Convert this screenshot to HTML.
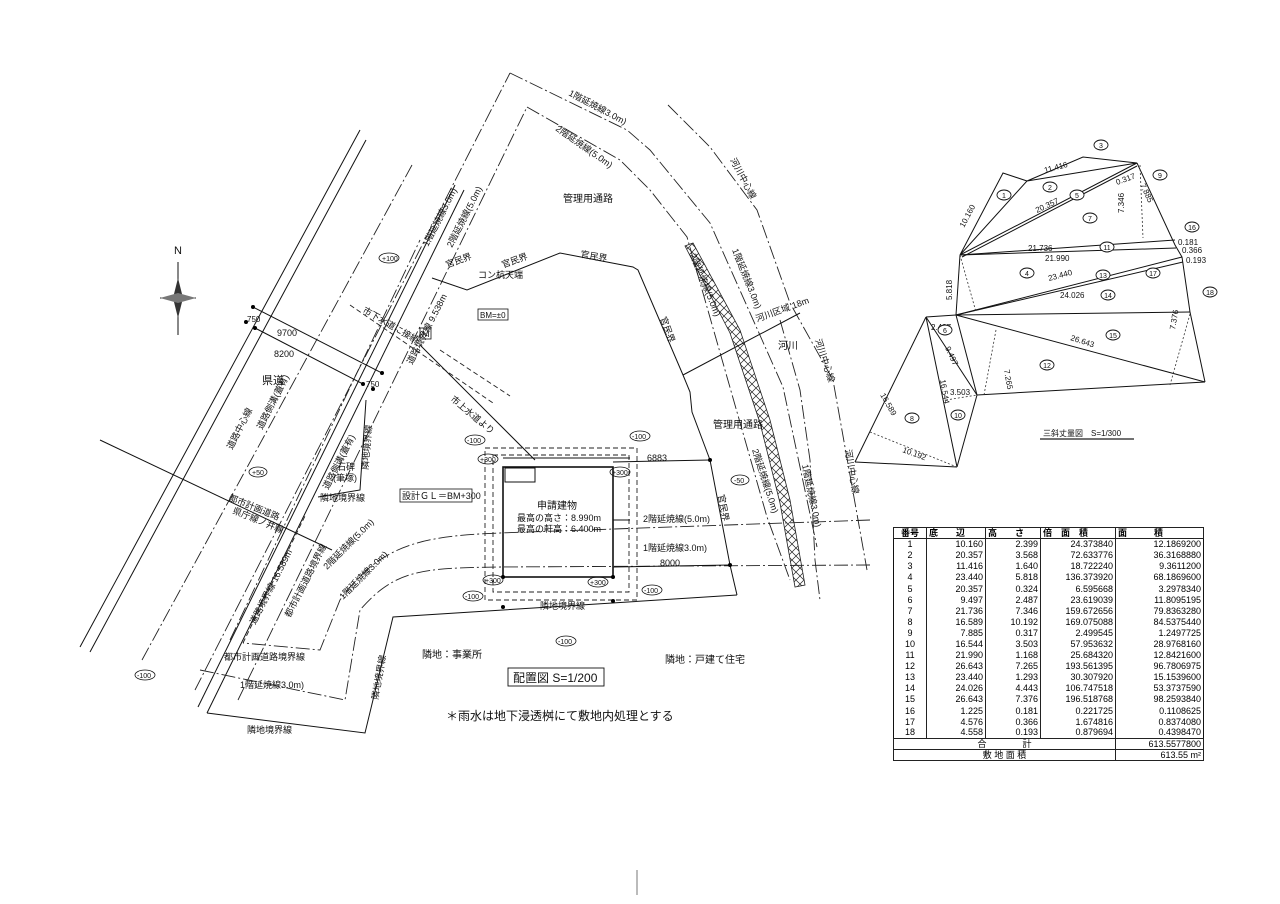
<!DOCTYPE html>
<html><head><meta charset="utf-8"><style>
html,body{margin:0;padding:0;background:#fff;}
svg{display:block;}
text{font-family:"Liberation Sans","Noto Sans CJK JP",sans-serif;fill:#111;}
.s{stroke:#111;stroke-width:1;fill:none;}
.d{stroke:#222;stroke-width:0.9;fill:none;stroke-dasharray:14 3 2 3;}
.k{stroke:#222;stroke-width:0.9;fill:none;stroke-dasharray:5 3;}
.t{stroke:#333;stroke-width:0.8;fill:none;stroke-dasharray:2 2;}
table td{padding:0 2px;height:11.1px;line-height:10px;box-sizing:border-box;}
</style></head><body>
<svg width="1280" height="904" viewBox="0 0 1280 904" xmlns="http://www.w3.org/2000/svg">
<defs>
<pattern id="hx" width="8" height="8" patternUnits="userSpaceOnUse">
<path d="M0 0L8 8M8 0L0 8" stroke="#222" stroke-width="0.7"/>
</pattern>
</defs>

<line class="s" x1="80" y1="647" x2="360" y2="130"/>
<line class="s" x1="90" y1="652" x2="366" y2="140"/>
<line class="d" x1="142" y1="660" x2="412" y2="165"/>
<line class="s" x1="198" y1="707" x2="455" y2="185"/>
<line class="s" x1="207" y1="713" x2="464" y2="190"/>
<line class="d" x1="195" y1="690" x2="510" y2="73"/>
<line class="d" x1="238" y1="700" x2="527" y2="107"/>
<line class="d" x1="230" y1="640" x2="420" y2="240"/>
<line class="s" x1="253" y1="307" x2="382" y2="373"/>
<line class="s" x1="255" y1="328" x2="363" y2="384"/>
<circle cx="253" cy="307" r="2"/><circle cx="246" cy="322" r="2"/><circle cx="255" cy="328" r="2"/>
<circle cx="382" cy="373" r="2"/><circle cx="363" cy="384" r="2"/><circle cx="373" cy="389" r="2"/>
<line class="s" x1="100" y1="440" x2="332" y2="550"/>
<polyline class="s" points="366,400 360,490 318,497"/>
<polyline class="d" points="510,73 627,130 650,150 710,223 783,387 817,547"/>
<polyline class="d" points="527,107 620,160 650,190 687,237 767,517 790,580"/>
<polyline class="d" points="668,105 710,147 757,210 790,303 833,380 867,570"/>
<polyline class="d" points="780,320 800,390 810,460 815,560 820,600"/>
<path d="M693,243 L740,330 L770,420 L790,500 L805,585 L795,587 L780,503 L760,423 L730,333 L685,246 Z" fill="url(#hx)" stroke="#222" stroke-width="0.8"/>
<polyline class="s" points="432,278 467,290 560,253 633,267 638,270 683,375 690,392 692,412 710,460 730,565 737,595"/>
<line class="s" x1="683" y1="375" x2="800" y2="313"/>
<line class="s" x1="420" y1="345" x2="535" y2="460"/>
<line class="k" x1="350" y1="305" x2="493" y2="403"/>
<line class="k" x1="440" y1="350" x2="510" y2="396"/>
<polyline class="s" points="737,595 393,617 365,733 207,713"/>
<path class="d" d="M870,520 L500,533 C420,536 380,545 340,600 L320,650 L243,643"/>
<path class="d" d="M870,565 L500,567 C420,568 395,570 360,610 L345,700 L200,670"/>
<line class="k" x1="243" y1="643" x2="305" y2="516"/>
<rect class="k" x="485" y="448" width="152" height="152"/>
<rect class="k" x="493" y="455" width="136" height="137"/>
<rect class="s" x="503" y="467" width="110" height="110" style="stroke-width:1.6"/>
<line class="s" x1="503" y1="458" x2="630" y2="458"/>
<line class="s" x1="613" y1="462" x2="710" y2="460"/>
<line class="s" x1="613" y1="567" x2="730" y2="565"/>
<line class="s" x1="613" y1="520" x2="630" y2="520"/>
<rect class="s" x="505" y="468" width="30" height="14"/>
<circle cx="710" cy="460" r="2"/><circle cx="730" cy="565" r="2"/><circle cx="503" cy="577" r="2"/><circle cx="613" cy="577" r="2"/><circle cx="503" cy="607" r="2"/><circle cx="613" cy="601" r="2"/>

<line class="s" x1="178" y1="262" x2="178" y2="335"/>
<line class="s" x1="160" y1="298" x2="196" y2="298"/>
<polygon points="178,278 183,298 178,318 173,298" fill="#333"/>
<polygon points="160,298 178,293 196,298 178,303" fill="#777"/>
<text x="174" y="254" font-size="11">N</text>

<g font-size="9">
<text x="262" y="384" font-size="11">県道</text>
<text x="563" y="202" font-size="10">管理用通路</text>
<text x="713" y="428" font-size="10">管理用通路</text>
<text x="778" y="349" font-size="10">河川</text>
<text x="665" y="663" font-size="10">隣地：戸建て住宅</text>
<text x="422" y="658" font-size="10">隣地：事業所</text>
<text x="478" y="278">コン杭天端</text>
<rect x="478" y="309" width="30" height="11" fill="none" stroke="#111" stroke-width="0.8"/>
<text x="480" y="318" font-size="8">BM=±0</text>
<rect x="420" y="328" width="11" height="11" fill="none" stroke="#111" stroke-width="0.8"/>
<text x="422" y="337" font-size="9">M</text>
<text x="277" y="336">9700</text>
<text x="274" y="357">8200</text>
<text x="247" y="322" font-size="8">750</text>
<text x="366" y="387" font-size="8">750</text>
<text x="337" y="470">石碑</text>
<text x="333" y="481">(筆塚)</text>
<text x="320" y="501">隣地境界線</text>
<rect x="400" y="489" width="72" height="13" fill="none" stroke="#111" stroke-width="0.8"/>
<text x="402" y="499">設計ＧＬ＝BM+300</text>
<text x="537" y="509" font-size="10">申請建物</text>
<text x="517" y="521">最高の高さ：8.990m</text>
<text x="517" y="532">最高の軒高：6.400m</text>
<text x="647" y="461">6883</text>
<text x="660" y="566">8000</text>
<text x="643" y="522">2階延焼線(5.0m)</text>
<text x="643" y="551">1階延焼線3.0m)</text>
<text x="540" y="609">隣地境界線</text>
<text x="224" y="660">都市計画道路境界線</text>
<text x="240" y="688">1階延焼線3.0m)</text>
<text x="247" y="733">隣地境界線</text>
<text x="757" y="322" transform="rotate(-20 757 322)">河川区域 18m</text>
<text x="447" y="268" transform="rotate(-20 447 268)">官民界</text>
<text x="503" y="268" transform="rotate(-20 503 268)">官民界</text>
<text x="580" y="257" transform="rotate(10 580 257)">官民界</text>
<text x="660" y="318" transform="rotate(70 660 318)">官民界</text>
<text x="718" y="495" transform="rotate(80 718 495)">官民界</text>
<text x="568" y="95" transform="rotate(28 568 95)">1階延焼線3.0m)</text>
<text x="555" y="130" transform="rotate(35 555 130)">2階延焼線(5.0m)</text>
<text x="730" y="160" transform="rotate(62 730 160)">河川中心線</text>
<text x="815" y="340" transform="rotate(72 815 340)">河川中心線</text>
<text x="845" y="450" transform="rotate(80 845 450)">河川中心線</text>
<text x="732" y="250" transform="rotate(68 732 250)">1階延焼線3.0m)</text>
<text x="690" y="255" transform="rotate(68 690 255)">2階延焼線(5.0m)</text>
<text x="752" y="450" transform="rotate(72 752 450)">2階延焼線(5.0m)</text>
<text x="802" y="465" transform="rotate(78 802 465)">1階延焼線3.0m)</text>
<text x="450" y="400" transform="rotate(40 450 400)">市上水道より</text>
<text x="362" y="312" transform="rotate(30 362 312)">市下水道に接続</text>
<text x="428" y="247" transform="rotate(-63 428 247)">1階延焼線3.0m)</text>
<text x="452" y="248" transform="rotate(-63 452 248)">2階延焼線(5.0m)</text>
<text x="412" y="365" transform="rotate(-63 412 365)">道路境界線 9.538m</text>
<text x="232" y="450" transform="rotate(-63 232 450)">道路中心線</text>
<text x="328" y="490" transform="rotate(-63 328 490)">道路側溝(蓋有)</text>
<text x="368" y="470" transform="rotate(-85 368 470)">隣地境界線</text>
<text x="262" y="430" transform="rotate(-63 262 430)">道路側溝(蓋有)</text>
<text x="228" y="500" transform="rotate(22 228 500)">都市計画道路</text>
<text x="232" y="513" transform="rotate(22 232 513)">県庁線ノ井線</text>
<text x="255" y="625" transform="rotate(-63 255 625)">道路境界線 16.589m</text>
<text x="290" y="618" transform="rotate(-63 290 618)">都市計画道路境界線</text>
<text x="327" y="570" transform="rotate(-45 327 570)">2階延焼線(5.0m)</text>
<text x="343" y="600" transform="rotate(-45 343 600)">1階延焼線3.0m)</text>
<text x="378" y="700" transform="rotate(-80 378 700)">隣地境界線</text>
</g>
<g font-size="8" fill="none" stroke="#111" stroke-width="0.8">
<ellipse cx="389" cy="258" rx="10" ry="5"/><ellipse cx="258" cy="472" rx="9" ry="5"/><ellipse cx="145" cy="675" rx="10" ry="5"/>
<ellipse cx="475" cy="440" rx="10" ry="5"/><ellipse cx="640" cy="436" rx="10" ry="5"/><ellipse cx="488" cy="459" rx="10" ry="5"/>
<ellipse cx="620" cy="472" rx="10" ry="5"/><ellipse cx="493" cy="580" rx="10" ry="5"/><ellipse cx="598" cy="582" rx="10" ry="5"/>
<ellipse cx="473" cy="596" rx="10" ry="5"/><ellipse cx="652" cy="590" rx="10" ry="5"/><ellipse cx="566" cy="641" rx="10" ry="5"/>
<ellipse cx="740" cy="480" rx="9" ry="5"/>
</g>
<g font-size="7">
<text x="382" y="261">+100</text><text x="252" y="475">+50</text><text x="137" y="678">-100</text>
<text x="467" y="443">-100</text><text x="632" y="439">-100</text><text x="480" y="462">+300</text>
<text x="612" y="475">+300</text><text x="485" y="583">+300</text><text x="590" y="585">+300</text>
<text x="465" y="599">-100</text><text x="644" y="593">-100</text><text x="558" y="644">-100</text>
<text x="734" y="483">-50</text>
</g>
<rect x="508" y="668" width="96" height="18" fill="none" stroke="#111" stroke-width="0.9"/>
<text x="513" y="682" font-size="12">配置図 S=1/200</text>
<text x="446" y="720" font-size="12">＊雨水は地下浸透桝にて敷地内処理とする</text>
<line x1="637" y1="870" x2="637" y2="895" stroke="#555" stroke-width="0.8"/>

<g>
<polyline class="s" points="960,255 1003,173 1027,181 960,255"/>
<polyline class="s" points="1027,181 1083,157 1137,163 1027,181"/>
<line class="s" x1="960" y1="255" x2="1137" y2="163"/>
<line class="s" x1="962" y1="257" x2="1137" y2="166"/>
<polyline class="s" points="1137,163 1175,245 1182,257 1190,312 1205,382"/>
<line class="s" x1="960" y1="255" x2="1175" y2="240"/>
<line class="s" x1="960" y1="255" x2="1176" y2="248"/>
<line class="s" x1="960" y1="255" x2="956" y2="315"/>
<line class="s" x1="956" y1="315" x2="1182" y2="257"/>
<line class="s" x1="956" y1="315" x2="1183" y2="262"/>
<line class="s" x1="956" y1="315" x2="1190" y2="312"/>
<line class="s" x1="956" y1="315" x2="1205" y2="382"/>
<line class="s" x1="977" y1="395" x2="1205" y2="382"/>
<line class="s" x1="956" y1="315" x2="977" y2="395"/>
<line class="s" x1="926" y1="317" x2="956" y2="315"/>
<line class="s" x1="926" y1="317" x2="977" y2="395"/>
<line class="s" x1="926" y1="317" x2="957" y2="467"/>
<line class="s" x1="926" y1="317" x2="855" y2="462"/>
<line class="s" x1="855" y1="462" x2="957" y2="467"/>
<line class="s" x1="977" y1="395" x2="957" y2="467"/>
</g>
<g class="t">
<line x1="1140" y1="165" x2="1143" y2="238"/><line x1="960" y1="255" x2="976" y2="312"/>
<line x1="996" y1="330" x2="984" y2="395"/><line x1="1190" y1="314" x2="1170" y2="385"/>
<line x1="870" y1="432" x2="957" y2="467"/><line x1="946" y1="400" x2="977" y2="395"/>
</g>
<g font-size="8">
<text x="964" y="228" transform="rotate(-62 964 228)">10.160</text>
<text x="1045" y="173" transform="rotate(-15 1045 173)">11.416</text>
<text x="1037" y="213" transform="rotate(-25 1037 213)">20.357</text>
<text x="1028" y="251">21.736</text>
<text x="1045" y="261">21.990</text>
<text x="1049" y="281" transform="rotate(-15 1049 281)">23.440</text>
<text x="1060" y="298">24.026</text>
<text x="1070" y="340" transform="rotate(18 1070 340)">26.643</text>
<text x="1140" y="185" transform="rotate(65 1140 185)">7.885</text>
<text x="1117" y="185" transform="rotate(-20 1117 185)">0.317</text>
<text x="1124" y="213" transform="rotate(-90 1124 213)">7.346</text>
<text x="1178" y="245">0.181</text><text x="1182" y="253">0.366</text><text x="1186" y="263">0.193</text>
<text x="952" y="300" transform="rotate(-90 952 300)">5.818</text>
<text x="931" y="330">2.487</text>
<text x="945" y="348" transform="rotate(65 945 348)">9.497</text>
<text x="940" y="380" transform="rotate(80 940 380)">16.544</text>
<text x="950" y="395">3.503</text>
<text x="880" y="395" transform="rotate(60 880 395)">16.589</text>
<text x="902" y="452" transform="rotate(20 902 452)">10.192</text>
<text x="1175" y="330" transform="rotate(-80 1175 330)">7.376</text>
<text x="1004" y="370" transform="rotate(80 1004 370)">7.265</text>
</g>
<g fill="#fff" stroke="#111" stroke-width="0.9">
<ellipse cx="1004" cy="195" rx="7" ry="5"/><ellipse cx="1050" cy="187" rx="7" ry="5"/><ellipse cx="1101" cy="145" rx="7" ry="5"/>
<ellipse cx="1077" cy="195" rx="7" ry="5"/><ellipse cx="1090" cy="218" rx="7" ry="5"/><ellipse cx="1160" cy="175" rx="7" ry="5"/>
<ellipse cx="1107" cy="247" rx="7" ry="5"/><ellipse cx="1027" cy="273" rx="7" ry="5"/><ellipse cx="1103" cy="275" rx="7" ry="5"/>
<ellipse cx="1153" cy="273" rx="7" ry="5"/><ellipse cx="1108" cy="295" rx="7" ry="5"/><ellipse cx="1192" cy="227" rx="7" ry="5"/>
<ellipse cx="1210" cy="292" rx="7" ry="5"/><ellipse cx="945" cy="330" rx="7" ry="5"/><ellipse cx="1113" cy="335" rx="7" ry="5"/>
<ellipse cx="1047" cy="365" rx="7" ry="5"/><ellipse cx="912" cy="418" rx="7" ry="5"/><ellipse cx="958" cy="415" rx="7" ry="5"/>
</g>
<g font-size="7" text-anchor="middle">
<text x="1004" y="198">1</text><text x="1050" y="190">2</text><text x="1101" y="148">3</text><text x="1077" y="198">5</text>
<text x="1090" y="221">7</text><text x="1160" y="178">9</text><text x="1107" y="250">11</text><text x="1027" y="276">4</text>
<text x="1103" y="278">13</text><text x="1153" y="276">17</text><text x="1108" y="298">14</text><text x="1192" y="230">16</text>
<text x="1210" y="295">18</text><text x="945" y="333">6</text><text x="1113" y="338">15</text><text x="1047" y="368">12</text>
<text x="912" y="421">8</text><text x="958" y="418">10</text>
</g>
<text x="1043" y="436" font-size="8">三斜丈量図　S=1/300</text>
<line x1="1040" y1="439" x2="1134" y2="439" stroke="#444" stroke-width="1.5"/>
</svg>

<div style="position:absolute;left:893px;top:527px;">
<table style="border-collapse:collapse;font-family:'Liberation Sans','Noto Sans CJK JP',sans-serif;font-size:9px;border:1.5px solid #111;">
<colgroup><col style="width:33px"><col style="width:59px"><col style="width:55px"><col style="width:75px"><col style="width:88px"></colgroup>
<tbody style="text-align:right;">
<tr style="text-align:left;font-weight:bold;"><td style="border:1px solid #222;text-align:center">番号</td><td style="border:1px solid #222">底　　辺</td><td style="border:1px solid #222">高　　さ</td><td style="border:1px solid #222">倍　面　積</td><td style="border:1px solid #222">面　　　積</td></tr>
<tr><td style="border-right:1px solid #222;text-align:center">1</td><td style="border-right:1px solid #222">10.160</td><td style="border-right:1px solid #222">2.399</td><td style="border-right:1px solid #222">24.373840</td><td>12.1869200</td></tr>
<tr><td style="border-right:1px solid #222;text-align:center">2</td><td style="border-right:1px solid #222">20.357</td><td style="border-right:1px solid #222">3.568</td><td style="border-right:1px solid #222">72.633776</td><td>36.3168880</td></tr>
<tr><td style="border-right:1px solid #222;text-align:center">3</td><td style="border-right:1px solid #222">11.416</td><td style="border-right:1px solid #222">1.640</td><td style="border-right:1px solid #222">18.722240</td><td>9.3611200</td></tr>
<tr><td style="border-right:1px solid #222;text-align:center">4</td><td style="border-right:1px solid #222">23.440</td><td style="border-right:1px solid #222">5.818</td><td style="border-right:1px solid #222">136.373920</td><td>68.1869600</td></tr>
<tr><td style="border-right:1px solid #222;text-align:center">5</td><td style="border-right:1px solid #222">20.357</td><td style="border-right:1px solid #222">0.324</td><td style="border-right:1px solid #222">6.595668</td><td>3.2978340</td></tr>
<tr><td style="border-right:1px solid #222;text-align:center">6</td><td style="border-right:1px solid #222">9.497</td><td style="border-right:1px solid #222">2.487</td><td style="border-right:1px solid #222">23.619039</td><td>11.8095195</td></tr>
<tr><td style="border-right:1px solid #222;text-align:center">7</td><td style="border-right:1px solid #222">21.736</td><td style="border-right:1px solid #222">7.346</td><td style="border-right:1px solid #222">159.672656</td><td>79.8363280</td></tr>
<tr><td style="border-right:1px solid #222;text-align:center">8</td><td style="border-right:1px solid #222">16.589</td><td style="border-right:1px solid #222">10.192</td><td style="border-right:1px solid #222">169.075088</td><td>84.5375440</td></tr>
<tr><td style="border-right:1px solid #222;text-align:center">9</td><td style="border-right:1px solid #222">7.885</td><td style="border-right:1px solid #222">0.317</td><td style="border-right:1px solid #222">2.499545</td><td>1.2497725</td></tr>
<tr><td style="border-right:1px solid #222;text-align:center">10</td><td style="border-right:1px solid #222">16.544</td><td style="border-right:1px solid #222">3.503</td><td style="border-right:1px solid #222">57.953632</td><td>28.9768160</td></tr>
<tr><td style="border-right:1px solid #222;text-align:center">11</td><td style="border-right:1px solid #222">21.990</td><td style="border-right:1px solid #222">1.168</td><td style="border-right:1px solid #222">25.684320</td><td>12.8421600</td></tr>
<tr><td style="border-right:1px solid #222;text-align:center">12</td><td style="border-right:1px solid #222">26.643</td><td style="border-right:1px solid #222">7.265</td><td style="border-right:1px solid #222">193.561395</td><td>96.7806975</td></tr>
<tr><td style="border-right:1px solid #222;text-align:center">13</td><td style="border-right:1px solid #222">23.440</td><td style="border-right:1px solid #222">1.293</td><td style="border-right:1px solid #222">30.307920</td><td>15.1539600</td></tr>
<tr><td style="border-right:1px solid #222;text-align:center">14</td><td style="border-right:1px solid #222">24.026</td><td style="border-right:1px solid #222">4.443</td><td style="border-right:1px solid #222">106.747518</td><td>53.3737590</td></tr>
<tr><td style="border-right:1px solid #222;text-align:center">15</td><td style="border-right:1px solid #222">26.643</td><td style="border-right:1px solid #222">7.376</td><td style="border-right:1px solid #222">196.518768</td><td>98.2593840</td></tr>
<tr><td style="border-right:1px solid #222;text-align:center">16</td><td style="border-right:1px solid #222">1.225</td><td style="border-right:1px solid #222">0.181</td><td style="border-right:1px solid #222">0.221725</td><td>0.1108625</td></tr>
<tr><td style="border-right:1px solid #222;text-align:center">17</td><td style="border-right:1px solid #222">4.576</td><td style="border-right:1px solid #222">0.366</td><td style="border-right:1px solid #222">1.674816</td><td>0.8374080</td></tr>
<tr><td style="border-right:1px solid #222;text-align:center">18</td><td style="border-right:1px solid #222">4.558</td><td style="border-right:1px solid #222">0.193</td><td style="border-right:1px solid #222">0.879694</td><td>0.4398470</td></tr>
<tr><td colspan="4" style="border:1px solid #222;text-align:center">合　　　　計</td><td style="border:1px solid #222">613.5577800</td></tr>
<tr><td colspan="4" style="border:1px solid #222;text-align:center">敷 地 面 積</td><td style="border:1px solid #222">613.55 m²</td></tr>
</tbody></table>
</div>
</body></html>
